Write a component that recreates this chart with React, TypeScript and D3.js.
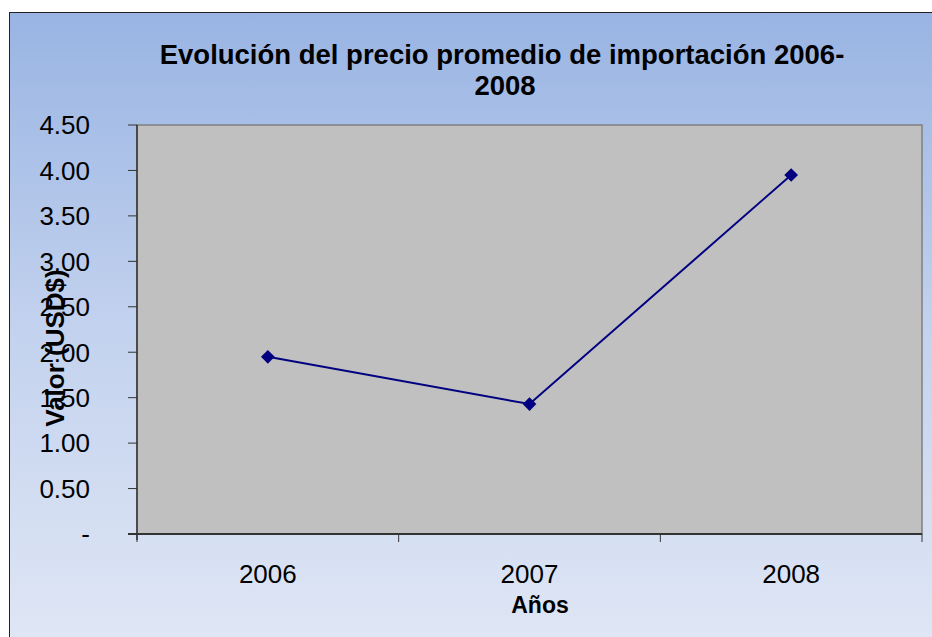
import { useMemo } from "react";
import * as d3 from "d3";

const WIDTH = 932;
const HEIGHT = 637;

// data
const years = ["2006", "2007", "2008"];
const prices = [1.95, 1.43, 3.95];
const yTicks = [0, 0.5, 1, 1.5, 2, 2.5, 3, 3.5, 4, 4.5];

const PLOT = { left: 137, top: 125, right: 922, bottom: 534 };
const FONT = "'Liberation Sans', Arial, sans-serif";

const App = () => {
  const xScale = useMemo(
    () => d3.scaleBand().domain(years).range([PLOT.left, PLOT.right]),
    []
  );
  const yScale = useMemo(
    () => d3.scaleLinear().domain([0, 4.5]).range([PLOT.bottom, PLOT.top]),
    []
  );

  const points = years.map((y, i) => ({
    x: (xScale(y) ?? 0) + xScale.bandwidth() / 2,
    y: yScale(prices[i]),
  }));

  const linePath = d3
    .line<{ x: number; y: number }>()
    .x((d) => d.x)
    .y((d) => d.y)(points);

  const diamond = d3.symbol().type(d3.symbolDiamond2).size(120)();

  const fmt = (v: number) => (v === 0 ? "-" : v.toFixed(2));

  // band edges for x ticks
  const xEdges = [...years.map((y) => xScale(y) ?? 0), PLOT.right];

  return (
    <svg
      width={WIDTH}
      height={HEIGHT}
      style={{ position: "absolute", left: 0, top: 0, fontFamily: FONT }}
    >
      <defs>
        <linearGradient id="bg" x1="0" y1="0" x2="0" y2="1">
          <stop offset="0%" stopColor="#99b4e3" />
          <stop offset="50%" stopColor="#c3d2ee" />
          <stop offset="100%" stopColor="#e0e7f5" />
        </linearGradient>
      </defs>
      <rect x={0} y={0} width={WIDTH} height={HEIGHT} fill="#ffffff" />
      <rect
        x={9.5}
        y={12.5}
        width={WIDTH}
        height={HEIGHT}
        fill="url(#bg)"
        stroke="#222"
        strokeWidth={1}
      />

      {/* title */}
      <text x={502} y={64} textAnchor="middle" fontSize={27.5} fontWeight="bold" fill="#000">
        Evolución del precio promedio de importación 2006-
      </text>
      <text x={505} y={95} textAnchor="middle" fontSize={27.5} fontWeight="bold" fill="#000">
        2008
      </text>

      {/* plot area */}
      <rect
        x={PLOT.left}
        y={PLOT.top}
        width={PLOT.right - PLOT.left}
        height={PLOT.bottom - PLOT.top}
        fill="#c0c0c0"
        stroke="#808080"
        strokeWidth={1.5}
      />

      {/* y axis */}
      <line x1={PLOT.left} x2={PLOT.left} y1={PLOT.top} y2={PLOT.bottom + 6} stroke="#333" strokeWidth={1.5} />
      {yTicks.map((t) => (
        <g key={t}>
          <line x1={PLOT.left - 9} x2={PLOT.left} y1={yScale(t)} y2={yScale(t)} stroke="#333" strokeWidth={1} />
          <text
            x={90}
            y={yScale(t)}
            dy="0.36em"
            textAnchor="end"
            fontSize={26}
            fill="#000"
          >
            {fmt(t)}
          </text>
        </g>
      ))}

      {/* x axis */}
      <line x1={PLOT.left - 9} x2={PLOT.right} y1={PLOT.bottom} y2={PLOT.bottom} stroke="#333" strokeWidth={2} />
      {xEdges.map((x, i) => (
        <line key={i} x1={x} x2={x} y1={PLOT.bottom} y2={PLOT.bottom + 8} stroke="#333" strokeWidth={1} />
      ))}
      {years.map((y) => (
        <text
          key={y}
          x={(xScale(y) ?? 0) + xScale.bandwidth() / 2}
          y={583}
          textAnchor="middle"
          fontSize={26}
          fill="#000"
        >
          {y}
        </text>
      ))}

      {/* axis titles */}
      <text x={540} y={613} textAnchor="middle" fontSize={23} fontWeight="bold" fill="#000">
        Años
      </text>
      <text
        transform={`translate(64,348) rotate(-90)`}
        textAnchor="middle"
        fontSize={26}
        fontWeight="bold"
        fill="#000"
      >
        Valor (USD$)
      </text>

      {/* series */}
      <path d={linePath ?? ""} fill="none" stroke="#000080" strokeWidth={2} />
      {points.map((p, i) => (
        <path key={i} d={diamond ?? ""} transform={`translate(${p.x},${p.y})`} fill="#000080" />
      ))}
    </svg>
  );
};

export default App;
